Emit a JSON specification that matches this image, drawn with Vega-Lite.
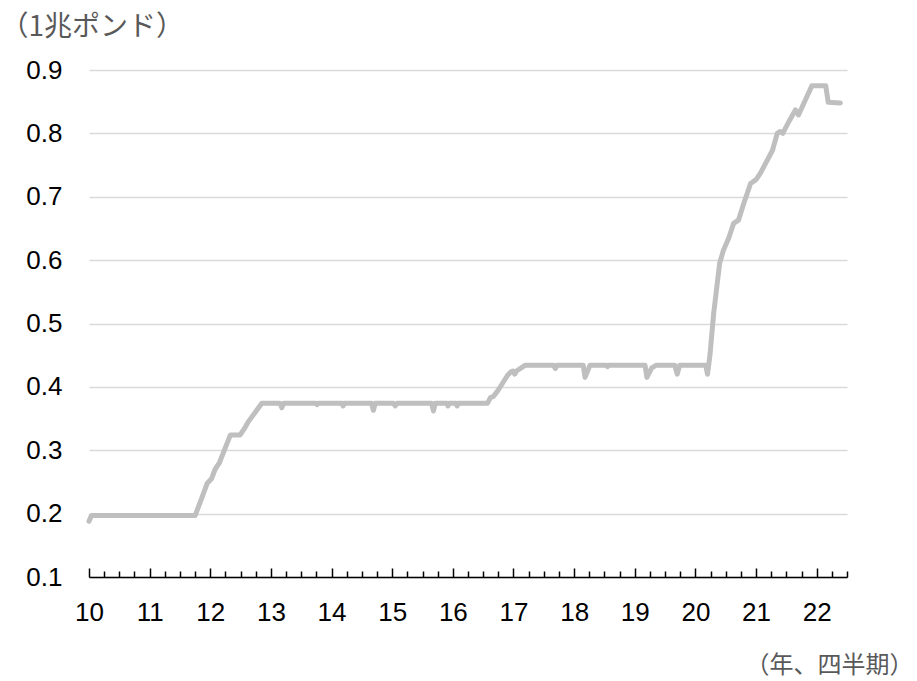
{
  "$schema": "https://vega.github.io/schema/vega-lite/v6.json",
  "width": 758,
  "height": 507,
  "autosize": {"type": "none"},
  "padding": {"left": 89, "top": 70, "right": 70, "bottom": 104},
  "background": "white",
  "config": {"view": {"stroke": null}},
  "data": {"values": [
    {"t": 10.00, "v": 0.188}, {"t": 10.04, "v": 0.197}, {"t": 11.75, "v": 0.197},
    {"t": 11.85, "v": 0.222}, {"t": 11.95, "v": 0.248}, {"t": 12.02, "v": 0.255},
    {"t": 12.08, "v": 0.27}, {"t": 12.15, "v": 0.28}, {"t": 12.33, "v": 0.324},
    {"t": 12.49, "v": 0.324}, {"t": 12.58, "v": 0.337}, {"t": 12.62, "v": 0.344},
    {"t": 12.85, "v": 0.374}, {"t": 13.15, "v": 0.374}, {"t": 13.18, "v": 0.367},
    {"t": 13.21, "v": 0.374}, {"t": 13.74, "v": 0.374}, {"t": 13.76, "v": 0.372},
    {"t": 13.78, "v": 0.374}, {"t": 14.17, "v": 0.374}, {"t": 14.19, "v": 0.370},
    {"t": 14.21, "v": 0.374}, {"t": 14.66, "v": 0.374}, {"t": 14.69, "v": 0.363},
    {"t": 14.72, "v": 0.374}, {"t": 15.02, "v": 0.374}, {"t": 15.05, "v": 0.370},
    {"t": 15.08, "v": 0.374}, {"t": 15.65, "v": 0.374}, {"t": 15.68, "v": 0.362},
    {"t": 15.71, "v": 0.374}, {"t": 15.90, "v": 0.374}, {"t": 15.92, "v": 0.370},
    {"t": 15.94, "v": 0.374}, {"t": 16.05, "v": 0.374}, {"t": 16.07, "v": 0.370},
    {"t": 16.09, "v": 0.374}, {"t": 16.57, "v": 0.374}, {"t": 16.62, "v": 0.383},
    {"t": 16.67, "v": 0.385}, {"t": 16.75, "v": 0.395}, {"t": 16.90, "v": 0.418},
    {"t": 16.95, "v": 0.423}, {"t": 16.99, "v": 0.425}, {"t": 17.02, "v": 0.420},
    {"t": 17.05, "v": 0.425}, {"t": 17.19, "v": 0.434}, {"t": 17.66, "v": 0.434},
    {"t": 17.69, "v": 0.429}, {"t": 17.72, "v": 0.434}, {"t": 18.15, "v": 0.434},
    {"t": 18.18, "v": 0.415}, {"t": 18.26, "v": 0.434}, {"t": 18.53, "v": 0.434},
    {"t": 18.55, "v": 0.432}, {"t": 18.57, "v": 0.434}, {"t": 19.17, "v": 0.434},
    {"t": 19.20, "v": 0.415}, {"t": 19.28, "v": 0.430}, {"t": 19.35, "v": 0.434},
    {"t": 19.66, "v": 0.434}, {"t": 19.70, "v": 0.420}, {"t": 19.74, "v": 0.434},
    {"t": 20.17, "v": 0.434}, {"t": 20.20, "v": 0.420}, {"t": 20.24, "v": 0.450},
    {"t": 20.30, "v": 0.515}, {"t": 20.40, "v": 0.595}, {"t": 20.46, "v": 0.615},
    {"t": 20.55, "v": 0.635}, {"t": 20.63, "v": 0.658}, {"t": 20.71, "v": 0.663},
    {"t": 20.80, "v": 0.690}, {"t": 20.91, "v": 0.721}, {"t": 21.00, "v": 0.727},
    {"t": 21.07, "v": 0.737}, {"t": 21.27, "v": 0.773}, {"t": 21.35, "v": 0.800},
    {"t": 21.40, "v": 0.803}, {"t": 21.44, "v": 0.800}, {"t": 21.55, "v": 0.820},
    {"t": 21.65, "v": 0.837}, {"t": 21.70, "v": 0.829}, {"t": 21.80, "v": 0.850},
    {"t": 21.92, "v": 0.875}, {"t": 22.15, "v": 0.875}, {"t": 22.19, "v": 0.849},
    {"t": 22.39, "v": 0.848}
  ]},
  "resolve": {"axis": {"x": "independent"}},
  "layer": [
    {
      "mark": {"type": "line", "color": "#bfbfbf", "strokeWidth": 5, "strokeCap": "round", "strokeJoin": "round"},
      "encoding": {
        "x": {
          "field": "t", "type": "quantitative",
          "scale": {"domain": [10, 22.5], "nice": false, "zero": false},
          "axis": {
            "orient": "bottom",
            "values": [10,11,12,13,14,15,16,17,18,19,20,21,22],
            "format": "d",
            "grid": false,
            "domainColor": "#000000",
            "domainWidth": 1.5,
            "ticks": false,
            "labelFont": "Liberation Sans",
            "labelFontSize": 26,
            "labelColor": "#000000",
            "labelPadding": 22,
            "labelOverlap": false,
            "labelFlush": false,
            "title": "（年、四半期）",
            "titleFont": "Noto Sans CJK JP",
            "titleFontSize": 24,
            "titleFontWeight": "normal",
            "titleColor": "#595959",
            "titleAnchor": null,
            "titleAlign": "right",
            "titleBaseline": "alphabetic",
            "titleX": 824,
            "titleY": 95
          }
        },
        "y": {
          "field": "v", "type": "quantitative",
          "scale": {"domain": [0.1, 0.9], "nice": false, "zero": false},
          "axis": {
            "values": [0.1,0.2,0.3,0.4,0.5,0.6,0.7,0.8,0.9],
            "format": ".1f",
            "domain": false,
            "ticks": false,
            "gridColor": "#d9d9d9",
            "gridWidth": 1.5,
            "labelFont": "Liberation Sans",
            "labelFontSize": 26,
            "labelColor": "#000000",
            "labelPadding": 27,
            "title": "（1兆ポンド）",
            "titleFont": "Noto Sans CJK JP",
            "titleFontSize": 28,
            "titleFontWeight": "normal",
            "titleColor": "#595959",
            "titleAngle": 0,
            "titleAnchor": null,
            "titleAlign": "left",
            "titleBaseline": "alphabetic",
            "titleX": -89,
            "titleY": -35
          }
        }
      }
    },
    {
      "mark": {"type": "line", "opacity": 0, "strokeWidth": 0},
      "encoding": {
        "x": {
          "field": "t", "type": "quantitative",
          "scale": {"domain": [10, 22.5], "nice": false, "zero": false},
          "axis": {
            "orient": "bottom",
            "values": [10,11,12,13,14,15,16,17,18,19,20,21,22],
            "labels": false,
            "domain": false,
            "grid": false,
            "tickColor": "#000000",
            "tickWidth": 1.5,
            "tickSize": 9,
            "offset": -9,
            "title": null
          }
        },
        "y": {"field": "v", "type": "quantitative"}
      }
    },
    {
      "mark": {"type": "line", "opacity": 0, "strokeWidth": 0},
      "encoding": {
        "x": {
          "field": "t", "type": "quantitative",
          "scale": {"domain": [10, 22.5], "nice": false, "zero": false},
          "axis": {
            "orient": "bottom",
            "values": [10.25,10.5,10.75,11.25,11.5,11.75,12.25,12.5,12.75,13.25,13.5,13.75,14.25,14.5,14.75,15.25,15.5,15.75,16.25,16.5,16.75,17.25,17.5,17.75,18.25,18.5,18.75,19.25,19.5,19.75,20.25,20.5,20.75,21.25,21.5,21.75,22.25,22.5],
            "labels": false,
            "domain": false,
            "grid": false,
            "tickColor": "#000000",
            "tickWidth": 1.5,
            "tickSize": 6,
            "offset": -6,
            "title": null
          }
        },
        "y": {"field": "v", "type": "quantitative"}
      }
    }
  ]
}
